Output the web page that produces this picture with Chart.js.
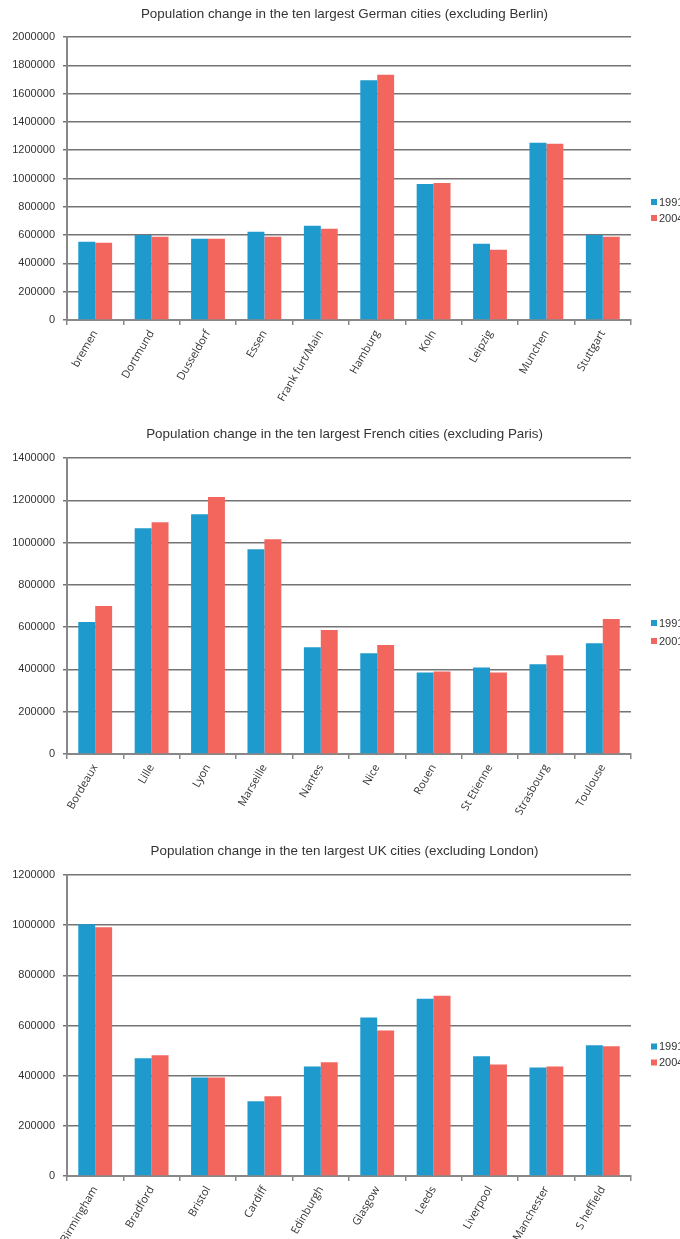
<!DOCTYPE html>
<html><head><meta charset="utf-8">
<script src="https://cdn.jsdelivr.net/npm/chart.js@4.4.1/dist/chart.umd.min.js"></script>
<style>
html,body{margin:0;padding:0;background:#fff;overflow:hidden;width:680px;height:1239px}
canvas{position:absolute;left:0;display:block}
</style></head>
<body>
<canvas id="c1" width="680" height="420" style="top:0"></canvas>
<canvas id="c2" width="680" height="420" style="top:420px"></canvas>
<canvas id="c3" width="680" height="399" style="top:840px"></canvas>
<script>
// ---- Data ----
const germanTitle = 'Population change in the ten largest German cities (excluding Berlin)';
const germanCities = ['bremen','Dortmund','Dusseldorf','Essen','Frank furt/Main','Hamburg','Koln','Leipzig','Munchen','Stuttgart'];
const german1991 = [553000, 600000, 574000, 624000, 666000, 1694000, 962000, 539000, 1252000, 600000];
const german2004 = [546000, 588000, 574000, 588000, 645000, 1734000, 969000, 496000, 1245000, 588000];
const germanSeriesLabels = ['1991', '2004'];
const germanAxisMax = 2000000;

const frenchTitle = 'Population change in the ten largest French cities (excluding Paris)';
const frenchCities = ['Bordeaux','Lille','Lyon','Marseille','Nantes','Nice','Rouen','St Etienne','Strasbourg','Toulouse'];
const french1991 = [624000, 1068000, 1134000, 968000, 505000, 477000, 386000, 409000, 424000, 524000];
const french2001 = [700000, 1096000, 1216000, 1016000, 586000, 515000, 390000, 386000, 467000, 638000];
const frenchSeriesLabels = ['1991', '2001'];
const frenchAxisMax = 1400000;

const ukTitle = 'Population change in the ten largest UK cities (excluding London)';
const ukCities = ['Birmingham','Bradford','Bristol','Cardiff','Edinburgh','Glasgow','Leeds','Liverpool','Manchester','S heffield'];
const uk1991 = [1004000, 469000, 393000, 298000, 437000, 632000, 707000, 477000, 433000, 521000];
const uk2004 = [992000, 481000, 393000, 318000, 453000, 580000, 719000, 445000, 437000, 517000];
const ukSeriesLabels = ['1991', '2004'];
const ukAxisMax = 1200000;

const axisStep = 200000;

// ---- Styles ----
const BLUE = '#1f9acd';
const RED = '#f2665e';

const sideLegend = {
  id: 'sideLegend',
  afterLayout(chart) {
    // centre the title over the whole picture rather than over the plot
    if (chart.titleBlock) { chart.titleBlock.left = 9; chart.titleBlock.right = 680; }
  },
  afterDraw(chart, args, opts) {
    const ctx = chart.ctx;
    ctx.save();
    ctx.font = '11px "Liberation Sans", Arial, sans-serif';
    ctx.textBaseline = 'middle';
    ctx.textAlign = 'left';
    chart.data.datasets.forEach((ds, i) => {
      const y = opts.ys[i];
      ctx.fillStyle = ds.backgroundColor;
      ctx.fillRect(opts.x, y - 3, 6, 6);
      ctx.fillStyle = '#333';
      ctx.fillText(ds.label, opts.x + 8, y + 0.5);
    });
    ctx.restore();
  }
};

function makeChart(id, title, cats, a, b, labels, max, L) {
  new Chart(document.getElementById(id), {
    type: 'bar',
    data: {
      labels: cats,
      datasets: [
        { label: labels[0], data: a, backgroundColor: BLUE },
        { label: labels[1], data: b, backgroundColor: RED }
      ]
    },
    options: {
      responsive: false,
      animation: false,
      devicePixelRatio: 1,
      categoryPercentage: 0.6,
      barPercentage: 1.0,
      layout: { padding: { left: 0, right: 49, top: 0, bottom: 0 } },
      plugins: {
        legend: { display: false },
        tooltip: { enabled: false },
        title: {
          display: true, text: title, color: '#333',
          font: { family: '"Liberation Sans", Arial, sans-serif', size: 13.4, weight: 'normal', lineHeight: 1.2 },
          padding: { top: L.titleTop, bottom: L.titleBottom }
        },
        sideLegend: { x: 651, ys: L.legendYs }
      },
      scales: {
        x: {
          grid: { display: true, drawOnChartArea: false, drawTicks: true, tickLength: 5, color: '#888', lineWidth: 1.5, offset: true },
          border: { display: true, color: '#888', width: 2 },
          ticks: {
            color: '#333', minRotation: 60, maxRotation: 60, padding: 3, autoSkip: false,
            font: { family: '"Open Sans", sans-serif', size: 11 }
          },
          afterFit(scale) { scale.height = L.xHeight; }
        },
        y: {
          min: 0, max: max,
          ticks: {
            stepSize: axisStep, color: '#333', padding: 8,
            font: { family: '"Liberation Sans", Arial, sans-serif', size: 11 },
            callback: v => String(v)
          },
          grid: { color: '#747474', lineWidth: 1.5, drawTicks: true, tickLength: 4 },
          border: { display: true, color: '#888', width: 2 },
          afterFit(scale) { scale.width = 67; }
        }
      }
    },
    plugins: [sideLegend]
  });
}

makeChart('c1', germanTitle, germanCities, german1991, german2004, germanSeriesLabels, germanAxisMax,
  { titleTop: 5.96, titleBottom: 14.96, xHeight: 100, legendYs: [202, 218] });
makeChart('c2', frenchTitle, frenchCities, french1991, french2001, frenchSeriesLabels, frenchAxisMax,
  { titleTop: 5.96, titleBottom: 15.96, xHeight: 86, legendYs: [203, 221] });
makeChart('c3', ukTitle, ukCities, uk1991, uk2004, ukSeriesLabels, ukAxisMax,
  { titleTop: 2.96, titleBottom: 15.96, xHeight: 63, legendYs: [206.5, 222.5] });
</script>
</body></html>
